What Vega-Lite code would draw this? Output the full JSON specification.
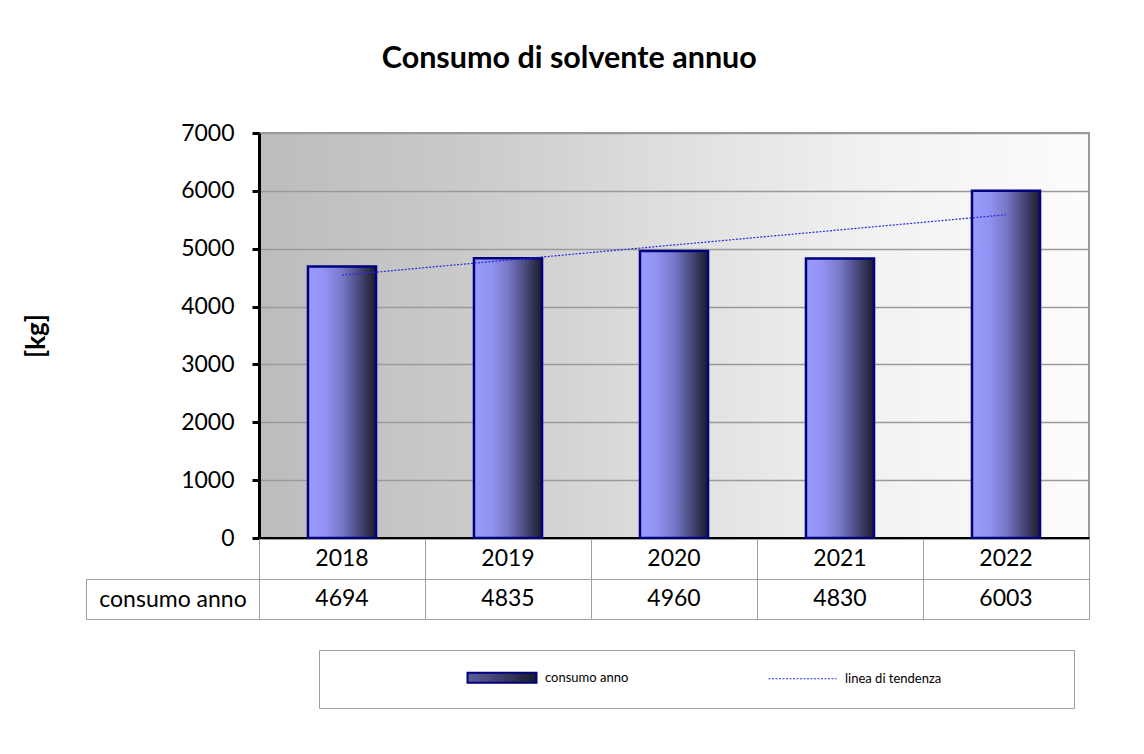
{
  "$schema": "https://vega.github.io/schema/vega-lite/v6.json",
  "background": "white",
  "autosize": {"type": "pad"},
  "padding": {"left": 22, "top": 43, "right": 5, "bottom": 5},
  "title": {
    "text": "Consumo di solvente annuo",
    "font": "Lato",
    "fontSize": 30.5,
    "fontWeight": "bold",
    "color": "black",
    "anchor": "middle",
    "frame": "bounds",
    "offset": 47,
    "dx": 13
  },
  "data": {
    "values": [
      {"anno": 2018, "consumo": 4694},
      {"anno": 2019, "consumo": 4835},
      {"anno": 2020, "consumo": 4960},
      {"anno": 2021, "consumo": 4830},
      {"anno": 2022, "consumo": 6003}
    ]
  },
  "spacing": 1,
  "bounds": "flush",
  "resolve": {"scale": {"x": "independent", "y": "independent"}},
  "vconcat": [
    {
      "width": 830,
      "height": 405,
      "view": {
        "fill": {
          "gradient": "linear",
          "x1": 0, "y1": 0, "x2": 1, "y2": 0,
          "stops": [
            {"offset": 0, "color": "#bcbcbc"},
            {"offset": 0.25, "color": "#cacaca"},
            {"offset": 0.5, "color": "#dfdfdf"},
            {"offset": 0.75, "color": "#f2f2f2"},
            {"offset": 1, "color": "#fcfcfc"}
          ]
        },
        "stroke": "#999999",
        "strokeWidth": 2
      },
      "encoding": {
        "x": {
          "field": "anno",
          "type": "nominal",
          "scale": {"paddingInner": 0.59, "paddingOuter": 0.295},
          "axis": {
            "title": null,
            "labels": false,
            "ticks": false,
            "grid": false,
            "domainColor": "black",
            "domainWidth": 3
          }
        },
        "y": {
          "field": "consumo",
          "type": "quantitative",
          "scale": {"domain": [0, 7000], "nice": false},
          "axis": {
            "title": "[kg]",
            "titleFont": "Lato",
            "titleFontSize": 26,
            "titleFontWeight": "bold",
            "titleColor": "black",
            "titlePadding": 131,
            "values": [0, 1000, 2000, 3000, 4000, 5000, 6000, 7000],
            "format": "d",
            "labelFont": "Lato",
            "labelFontSize": 23,
            "labelColor": "black",
            "labelPadding": 18,
            "tickSize": 7,
            "tickWidth": 3,
            "tickColor": "black",
            "domainColor": "black",
            "domainWidth": 3,
            "grid": true,
            "gridColor": "#9a9a9a",
            "gridWidth": 1.5
          }
        }
      },
      "layer": [
        {
          "mark": {
            "type": "bar",
            "strokeWidth": 2.5,
            "fill": {
              "gradient": "linear",
              "x1": 0, "y1": 0, "x2": 1, "y2": 0,
              "stops": [
                {"offset": 0, "color": "#9b9bff"},
                {"offset": 0.25, "color": "#9292f2"},
                {"offset": 0.5, "color": "#7878c8"},
                {"offset": 0.75, "color": "#4a4a7e"},
                {"offset": 1, "color": "#1a1a2a"}
              ]
            }
          },
          "encoding": {
            "stroke": {
              "datum": "consumo anno",
              "type": "nominal",
              "scale": {
                "domain": ["consumo anno", "linea di tendenza"],
                "range": ["#000080", "#2a2ae0"]
              },
              "legend": {
                "title": null,
                "orient": "none",
                "legendX": 60,
                "legendY": 517,
                "direction": "horizontal",
                "strokeColor": "#a0a0a0",
                "padding": 21,
                "columnPadding": 10,
                "labelFont": "Lato",
                "labelFontSize": 13,
                "labelColor": "black",
                "symbolSize": 100,
                "labelOffset": 192,
                "symbolType": {"expr": "datum.label === 'consumo anno' ? 'M-1,0L-1,0M24.2,-1L38,-1L38,1L24.2,1Z' : 'M-1,0L-1,0M24.4,0L38,0M80.8,0L80.8,0'"},
                "symbolStrokeWidth": {"expr": "datum.label === 'consumo anno' ? 2 : 1.2"},
                "symbolDash": {"expr": "datum.label === 'consumo anno' ? [] : [2, 1.5]"},
                "symbolOpacity": 1
              }
            }
          }
        },
        {
          "transform": [{"regression": "consumo", "on": "anno"}],
          "mark": {"type": "line", "strokeWidth": 1.2, "strokeDash": [2, 1.5]},
          "encoding": {
            "stroke": {"datum": "linea di tendenza", "type": "nominal", "legend": null}
          }
        }
      ]
    },
    {
      "width": 830,
      "height": 80,
      "view": {"stroke": null},
      "transform": [{"fold": ["anno", "consumo"], "as": ["riga", "valore"]}],
      "mark": {"type": "text", "font": "Lato", "fontSize": 23, "color": "black"},
      "encoding": {
        "x": {
          "field": "anno",
          "type": "nominal",
          "scale": {"paddingInner": 0, "paddingOuter": 0},
          "axis": {
            "orient": "top",
            "title": null,
            "labels": false,
            "ticks": false,
            "domain": false,
            "grid": true,
            "tickBand": "extent",
            "gridColor": "#a0a0a0",
            "gridWidth": 1
          }
        },
        "y": {
          "field": "riga",
          "type": "nominal",
          "sort": ["anno", "consumo"],
          "scale": {"paddingInner": 0, "paddingOuter": 0},
          "axis": {
            "title": null,
            "orient": "left",
            "offset": 173,
            "domain": true,
            "domainColor": "#a0a0a0",
            "domainWidth": 1,
            "domainDash": [0, 40, 40],
            "ticks": true,
            "tickBand": "extent",
            "tickSize": -173,
            "tickWidth": 1,
            "tickColor": "#a0a0a0",
            "tickOpacity": {
              "condition": {"test": "datum.extra", "value": 0},
              "value": 1
            },
            "grid": true,
            "gridColor": "#a0a0a0",
            "gridWidth": 1,
            "labelExpr": "datum.value === 'consumo' ? 'consumo anno' : ''",
            "labelAlign": "center",
            "labelPadding": 86.5,
            "labelFont": "Lato",
            "labelFontSize": 23,
            "labelColor": "black"
          }
        },
        "text": {"field": "valore", "type": "nominal"}
      }
    }
  ]
}
